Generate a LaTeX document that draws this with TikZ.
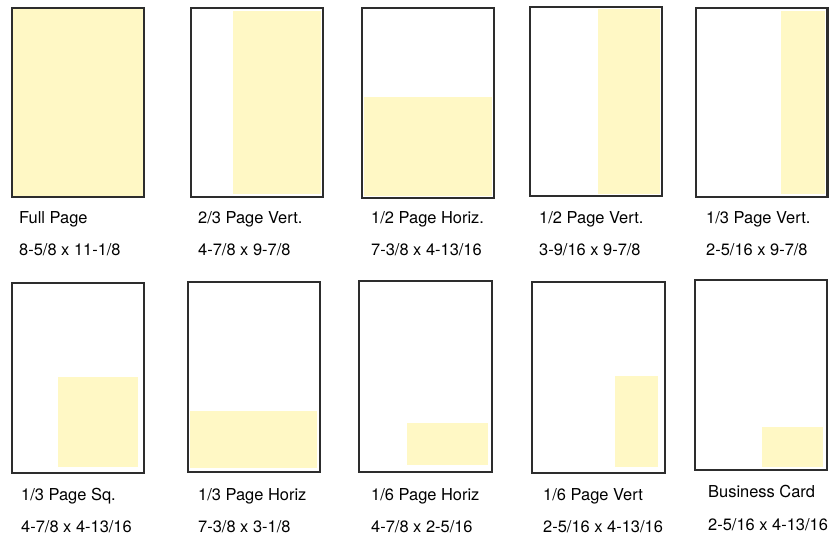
\documentclass[tikz,border=0pt]{standalone}
\usepackage{fontspec}
\setmainfont{TeX Gyre Heros}
\definecolor{adyellow}{RGB}{255,248,197}
\definecolor{frame}{RGB}{45,45,45}
\tikzset{
  pagebox/.style={draw=frame, line width=2.4bp},
  adarea/.style={fill=adyellow},
  lbl/.style={anchor=base west, inner sep=0pt, font=\fontsize{16.5}{19}\selectfont}
}
\begin{document}
\begin{tikzpicture}[x=1bp,y=-1bp]
\useasboundingbox (0,0) rectangle (830,535);
% ---- row 1 ----
% Full page
\draw[pagebox, fill=adyellow] (12,8) rectangle (144,197);
% 2/3 page vert
\fill[adarea] (233,11) rectangle (321,194);
\draw[pagebox] (191,8) rectangle (323,197);
% 1/2 page horiz
\fill[adarea] (364,97) rectangle (492,196);
\draw[pagebox] (362,8) rectangle (494,198);
% 1/2 page vert
\fill[adarea] (598,9) rectangle (660,194);
\draw[pagebox] (530,7) rectangle (662,196);
% 1/3 page vert
\fill[adarea] (781,11) rectangle (825,194);
\draw[pagebox] (696,8) rectangle (827.5,197);
% ---- row 2 ----
% 1/3 page sq
\fill[adarea] (58,377) rectangle (138,467);
\draw[pagebox] (12,283) rectangle (144,473);
% 1/3 page horiz
\fill[adarea] (190,411) rectangle (317,468);
\draw[pagebox] (188,282) rectangle (320,472);
% 1/6 page horiz
\fill[adarea] (407,423) rectangle (488,465);
\draw[pagebox] (359,281) rectangle (492,472);
% 1/6 page vert
\fill[adarea] (615,376) rectangle (658,467);
\draw[pagebox] (532,282) rectangle (665,473);
% business card
\fill[adarea] (762,427) rectangle (823,467);
\draw[pagebox] (695,280) rectangle (827,470);
% ---- labels row 1 ----
\node[lbl] (t1) at (19,224) {Full Page};
\node[lbl] (d1) at (19,256) {8-5/8 x 11-1/8};
\node[lbl] (t2) at (198,224) {2/3 Page Vert.};
\node[lbl] (d2) at (198,256) {4-7/8 x 9-7/8};
\node[lbl] (t3) at (371,224) {1/2 Page Horiz.};
\node[lbl] (d3) at (371,256) {7-3/8 x 4-13/16};
\node[lbl] (t4) at (539,224) {1/2 Page Vert.};
\node[lbl] (d4) at (539,256) {3-9/16 x 9-7/8};
\node[lbl] (t5) at (706,224) {1/3 Page Vert.};
\node[lbl] (d5) at (706,256) {2-5/16 x 9-7/8};
% ---- labels row 2 ----
\node[lbl] (t6) at (21,500) {1/3 Page Sq.};
\node[lbl] (d6) at (21,532.5) {4-7/8 x 4-13/16};
\node[lbl] (t7) at (198,500) {1/3 Page Horiz};
\node[lbl] (d7) at (198,532.5) {7-3/8 x 3-1/8};
\node[lbl] (t8) at (371,500) {1/6 Page Horiz};
\node[lbl] (d8) at (371,532.5) {4-7/8 x 2-5/16};
\node[lbl] (t9) at (543,500) {1/6 Page Vert};
\node[lbl] (d9) at (543,532.5) {2-5/16 x 4-13/16};
\node[lbl] (t10) at (708,497.5) {Business Card};
\node[lbl] (d10) at (708,530.5) {2-5/16 x 4-13/16};
\end{tikzpicture}
\end{document}
